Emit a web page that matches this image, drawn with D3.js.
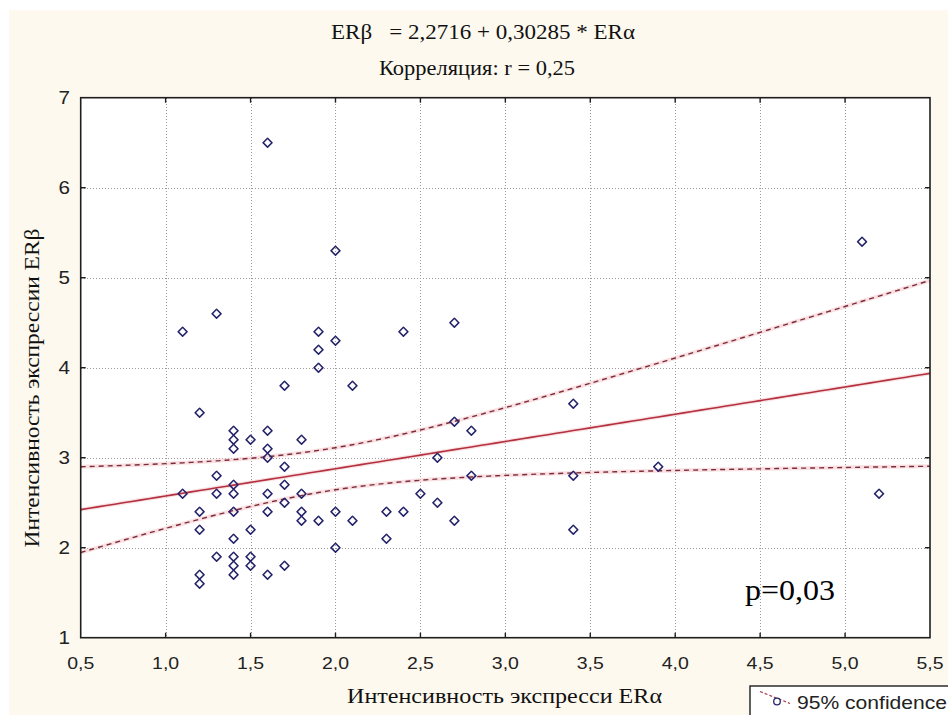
<!DOCTYPE html>
<html>
<head>
<meta charset="utf-8">
<script src="https://cdn.jsdelivr.net/npm/d3@7/dist/d3.min.js"></script>
<style>
  html, body { margin: 0; padding: 0; background: #ffffff; }
  svg { display: block; }
</style>
</head>
<body>
<svg id="chart" width="948" height="715"></svg>
<script>
// ERα / ERβ expression intensity per sample
const erAlpha = [1.6, 2.0, 1.1, 1.3, 1.9, 2.0, 1.9, 1.9, 1.7, 2.1, 2.4, 2.7,
  3.4, 2.7, 2.8, 2.6, 2.8, 3.4, 3.9, 2.5, 2.6, 2.3, 2.4, 2.7, 2.3, 3.4,
  1.2, 1.4, 1.4, 1.4, 1.5, 1.6, 1.6, 1.6, 1.8, 1.7, 1.7, 1.7, 1.3, 1.4,
  1.1, 1.3, 1.4, 1.6, 1.8, 1.2, 1.4, 1.6, 1.8, 1.8, 1.9, 2.0, 2.1, 1.2,
  1.5, 1.4, 2.0, 1.3, 1.4, 1.5, 1.4, 1.5, 1.7, 1.4, 1.2, 1.2, 1.6, 5.1, 5.2];
const erBeta = [6.5, 5.3, 4.4, 4.6, 4.4, 4.3, 4.2, 4.0, 3.8, 3.8, 4.4, 4.5,
  3.6, 3.4, 3.3, 3.0, 2.8, 2.8, 2.9, 2.6, 2.5, 2.4, 2.4, 2.3, 2.1, 2.2,
  3.5, 3.3, 3.2, 3.1, 3.2, 3.3, 3.1, 3.0, 3.2, 2.9, 2.7, 2.5, 2.8, 2.7,
  2.6, 2.6, 2.6, 2.6, 2.6, 2.4, 2.4, 2.4, 2.4, 2.3, 2.3, 2.4, 2.3, 2.2,
  2.2, 2.1, 2.0, 1.9, 1.9, 1.9, 1.8, 1.8, 1.8, 1.7, 1.7, 1.6, 1.7, 5.4, 2.6];

// Fitted regression ERβ = a + b * ERα, as printed in the heading
const intercept = 2.2716;
const slope = 0.30285;
const tCrit = 1.996; // two-sided 95 %, df = n - 2

const xTicks = [0.5, 1.0, 1.5, 2.0, 2.5, 3.0, 3.5, 4.0, 4.5, 5.0, 5.5];
const yTicks = [1, 2, 3, 4, 5, 6, 7];

const titleLine1 = "ERβ   = 2,2716 + 0,30285 * ERα";
const titleLine2 = "Корреляция: r = 0,25";
const xLabel = "Интенсивность экспресси ERα";
const yLabel = "Интенсивность экспрессии ERβ";
const pLabel = "p=0,03";
const legendLabel = "95% confidence";

const svg = d3.select("#chart");
const W = 948, H = 715;
const pLeft = 80.7, pRight = 930, pTop = 97.7, pBottom = 637.7;

const x = d3.scaleLinear().domain([0.5, 5.5]).range([pLeft, pRight]);
const y = d3.scaleLinear().domain([1, 7]).range([pBottom, pTop]);
const fmt = v => d3.format(".1f")(v).replace(".", ",");

const sans = "'Liberation Sans', Arial, sans-serif";
const serif = "'Liberation Serif', 'Times New Roman', serif";
const stretch = 1.18; // wide screen lettering

// page background
svg.append("rect").attr("width", W).attr("height", H).attr("fill", "#ffffff");
svg.append("rect").attr("x", 9).attr("y", 10).attr("width", W - 9).attr("height", H - 10)
  .attr("fill", "#fdf9ef");

// plot area
svg.append("rect").attr("x", pLeft).attr("y", pTop)
  .attr("width", pRight - pLeft).attr("height", pBottom - pTop).attr("fill", "#ffffff");

const clipId = "plotclip";
svg.append("clipPath").attr("id", clipId).append("rect")
  .attr("x", pLeft).attr("y", pTop).attr("width", pRight - pLeft).attr("height", pBottom - pTop);

// dotted grid
const grid = svg.append("g").attr("stroke", "#9a9a9a").attr("stroke-width", 1)
  .attr("stroke-dasharray", "1,2").attr("shape-rendering", "crispEdges");
grid.selectAll("line.gx").data(xTicks.slice(1, -1)).join("line").attr("class", "gx")
  .attr("x1", d => Math.round(x(d)) + 0.5).attr("x2", d => Math.round(x(d)) + 0.5)
  .attr("y1", pTop).attr("y2", pBottom);
grid.selectAll("line.gy").data(yTicks.slice(1, -1)).join("line").attr("class", "gy")
  .attr("y1", d => Math.round(y(d)) + 0.5).attr("y2", d => Math.round(y(d)) + 0.5)
  .attr("x1", pLeft).attr("x2", pRight);

// confidence band for the mean response, from the sample
const n = erAlpha.length;
const xMean = d3.mean(erAlpha);
const sxx = d3.sum(erAlpha, v => (v - xMean) ** 2);
const sse = d3.sum(erAlpha, (v, i) => (erBeta[i] - (intercept + slope * v)) ** 2);
const s = Math.sqrt(sse / (n - 2));
const halfWidth = v => tCrit * s * Math.sqrt(1 / n + (v - xMean) ** 2 / sxx);
const xs = d3.range(0.5, 5.5001, 0.05);

const plot = svg.append("g").attr("clip-path", `url(#${clipId})`);
const line = d3.line().x(d => x(d[0])).y(d => y(d[1]));

// faint halo around the red lines
const halo = (data) => plot.append("path").datum(data).attr("d", line)
  .attr("fill", "none").attr("stroke", "#f4c8cc").attr("stroke-width", 4).attr("opacity", 0.55);

const fitPts = xs.map(v => [v, intercept + slope * v]);
const upPts = xs.map(v => [v, intercept + slope * v + halfWidth(v)]);
const loPts = xs.map(v => [v, intercept + slope * v - halfWidth(v)]);
halo(fitPts); halo(upPts); halo(loPts);

[upPts, loPts].forEach(pts => {
  plot.append("path").datum(pts).attr("d", line)
    .attr("fill", "none").attr("stroke", "#7d2b3a").attr("stroke-width", 1.4)
    .attr("stroke-dasharray", "5,4");
});
plot.append("path").datum(fitPts).attr("d", line)
  .attr("fill", "none").attr("stroke", "#b3303f").attr("stroke-width", 1.6);

// sample points
const diamond = d3.symbol().type(d3.symbolSquare).size(40);
plot.selectAll("path.pt").data(erAlpha.map((v, i) => [v, erBeta[i]])).join("path")
  .attr("class", "pt")
  .attr("d", diamond)
  .attr("transform", d => `translate(${x(d[0])},${y(d[1])}) rotate(45)`)
  .attr("fill", "none").attr("stroke", "#25246a").attr("stroke-width", 1.6)
  .attr("stroke-linejoin", "round");

// frame
svg.append("rect").attr("x", pLeft).attr("y", pTop)
  .attr("width", pRight - pLeft).attr("height", pBottom - pTop)
  .attr("fill", "none").attr("stroke", "#1e1e1e").attr("stroke-width", 1.6);

// inward ticks on all four sides
const tk = svg.append("g").attr("stroke", "#1e1e1e").attr("stroke-width", 1.4);
const tl = 5;
xTicks.slice(1, -1).forEach(v => {
  tk.append("line").attr("x1", x(v)).attr("x2", x(v)).attr("y1", pBottom).attr("y2", pBottom - tl);
  tk.append("line").attr("x1", x(v)).attr("x2", x(v)).attr("y1", pTop).attr("y2", pTop + tl);
});
yTicks.slice(1, -1).forEach(v => {
  tk.append("line").attr("y1", y(v)).attr("y2", y(v)).attr("x1", pLeft).attr("x2", pLeft + tl);
  tk.append("line").attr("y1", y(v)).attr("y2", y(v)).attr("x1", pRight).attr("x2", pRight - tl);
});

// tick labels
svg.append("g").selectAll("text").data(xTicks).join("text")
  .attr("transform", d => `translate(${x(d)},668.5) scale(${stretch},1)`)
  .attr("text-anchor", "middle").attr("font-family", sans).attr("font-size", 16.5)
  .attr("fill", "#222").text(fmt);
svg.append("g").selectAll("text").data(yTicks).join("text")
  .attr("transform", d => `translate(70,${y(d) + 6.5}) scale(${stretch},1)`)
  .attr("text-anchor", "end").attr("font-family", sans).attr("font-size", 17.5)
  .attr("fill", "#222").text(d => d);

// text helper fitted to a given run length
const fitted = (px, py, str, size, len, family, anchor) =>
  svg.append("text").attr("x", px).attr("y", py).attr("text-anchor", anchor || "middle")
    .attr("font-family", family).attr("font-size", size).attr("fill", "#111")
    .attr("textLength", len).attr("lengthAdjust", "spacingAndGlyphs")
    .style("white-space", "pre").text(str);

// headings and axis titles
fitted(483, 39, titleLine1, 21, 304, serif);
fitted(477, 75, titleLine2, 21, 196, serif);
fitted(504.5, 703, xLabel, 21, 315, serif);
svg.append("text").attr("transform", "translate(39,388) rotate(-90)").attr("text-anchor", "middle")
  .attr("font-family", serif).attr("font-size", 21).attr("fill", "#111")
  .attr("textLength", 319).attr("lengthAdjust", "spacingAndGlyphs").text(yLabel);

// significance note
fitted(745, 600, pLabel, 28.5, 90, serif, "start").attr("fill", "#000");

// legend
svg.append("rect").attr("x", 750).attr("y", 686).attr("width", 220).attr("height", 40)
  .attr("fill", "#ffffff").attr("stroke", "#1e1e1e").attr("stroke-width", 1.4);
svg.append("line").attr("x1", 760).attr("y1", 691.5).attr("x2", 790).attr("y2", 703.5)
  .attr("stroke", "#a8404c").attr("stroke-width", 1.2).attr("stroke-dasharray", "3,2");
svg.append("circle").attr("cx", 777).attr("cy", 701.5).attr("r", 3.3)
  .attr("fill", "#ffffff").attr("stroke", "#25246a").attr("stroke-width", 1.3);
fitted(797, 708.5, legendLabel, 17.5, 150, sans, "start").attr("fill", "#222");
</script>
</body>
</html>
